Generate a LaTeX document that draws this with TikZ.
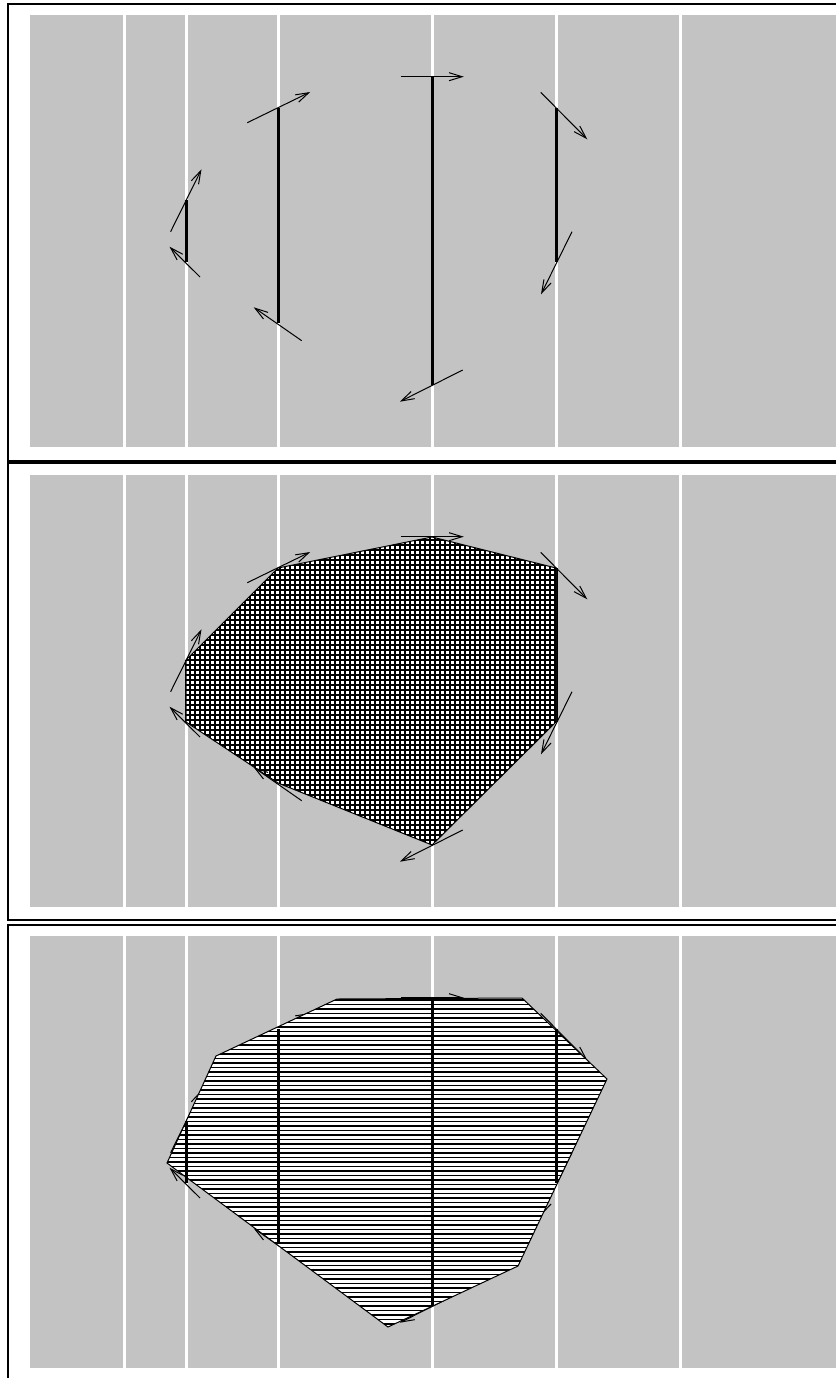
\documentclass[tikz,border=0pt]{standalone}
\usetikzlibrary{arrows.meta}
\definecolor{slabgray}{RGB}{195,195,195}

\newcommand\slabs{%
    \fill[slabgray] (30,15) rectangle (836,447);
    \foreach \x in {124,186,278,432,556,680} {
        \draw[cut] (\x,15) -- (\x,447);
    }
    \foreach \i/\x/\t/\b in {1/186/200/262, 2/278/108/323, 3/432/77/385, 4/556/108/262} {
        \coordinate (s\i t) at (\x,\t);
        \coordinate (s\i b) at (\x,\b);
    }
}
\newcommand\segs{%
    \foreach \i in {1,...,4} {
        \draw[seg] (s\i t) -- (s\i b);
    }
}
\newcommand\dirs{%
    \foreach \ax/\ay/\bx/\by in {170.6/231.7/201.5/169.3, 200/277/169.5/246.7,
        247.3/122.7/310.2/92, 301.7/340.7/253.7/307.3, 400.9/76.7/463.8/76.7,
        462.7/370/399.8/401.7, 540.7/92.3/587.3/139.3, 572/231.7/541/294.3} {
        \draw[dir] (\ax,\ay) -- (\bx,\by);
    }
}

\begin{document}
\begin{tikzpicture}[x=1pt, y=-1pt,
    frame/.style={line width=2.2pt, black},
    cut/.style={white, line width=3pt},
    seg/.style={line width=3pt, black},
    dir/.style={line width=1pt, -{Straight Barb[length=13pt, width=8pt, line width=1pt]}},
    hull/.style={line width=1pt, black},
    hatch/.style={line width=1.4pt, black}
]
    \useasboundingbox (0,0) rectangle (836,1378);
    \draw[frame] (836,4) -- (8,4) -- (8,461) -- (836,461);
    \draw[frame] (836,463) -- (8,463) -- (8,920) -- (836,920);
    \draw[frame] (836,925) -- (8,925) -- (8,1390);

    \begin{scope}
        \slabs
        \segs
        \dirs
    \end{scope}

    \begin{scope}[shift={(0,460)}]
        \slabs
        \segs
        \begin{scope}
            \clip (s3t) -- (s4t) -- (s4b) -- (s3b) -- (s2b) -- (s1b) -- (s1t) -- (s2t) -- cycle;
            \fill[white] (150,60) rectangle (620,420);
            \foreach \g in {150,155,...,620} {
                \draw[hatch] (\g,60) -- (\g,420);
            }
            \foreach \g in {60,65,...,420} {
                \draw[hatch] (150,\g) -- (620,\g);
            }
        \end{scope}
        \draw[hull] (s3t) -- (s4t) -- (s4b) -- (s3b) -- (s2b) -- (s1b) -- (s1t) -- (s2t) -- cycle;
        \dirs
    \end{scope}

    \begin{scope}[shift={(0,921)}]
        \slabs
        \dirs
        \coordinate (p1) at (337,78);
        \coordinate (p2) at (522,77);
        \coordinate (p3) at (607,158);
        \coordinate (p4) at (518,345);
        \coordinate (p5) at (388,406);
        \coordinate (p6) at (167,242);
        \coordinate (p7) at (216,135);
        \begin{scope}
            \clip (p1) -- (p2) -- (p3) -- (p4) -- (p5) -- (p6) -- (p7) -- cycle;
            \fill[white] (150,60) rectangle (620,420);
            \foreach \y in {70,74.5,...,415} {
                \draw[hatch] (150,\y) -- (620,\y);
            }
        \end{scope}
        \draw[hull] (p1) -- (p2) -- (p3) -- (p4) -- (p5) -- (p6) -- (p7) -- cycle;
        \segs
    \end{scope}
\end{tikzpicture}
\end{document}
